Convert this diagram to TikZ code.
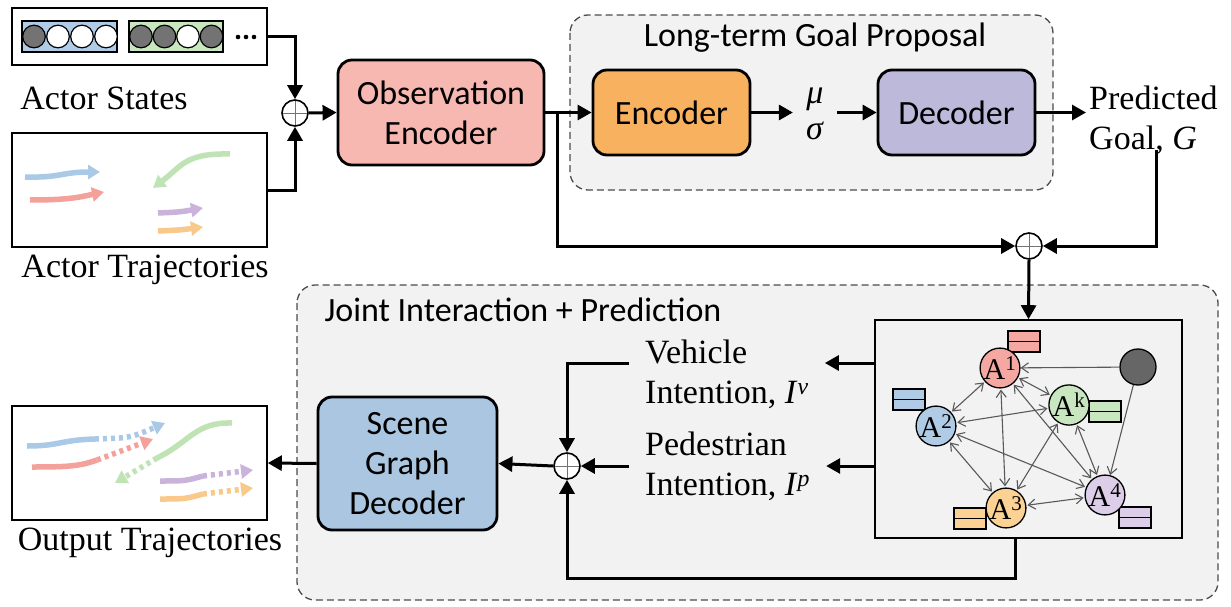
\documentclass[tikz,border=0pt]{standalone}
\usepackage{fontspec}
\setmainfont{Liberation Serif}
\newfontfamily\calfont{Carlito}
\usetikzlibrary{arrows.meta}

\definecolor{obspink}{HTML}{F8B8B2}
\definecolor{encorange}{HTML}{F8B15E}
\definecolor{declav}{HTML}{BDB9DA}
\definecolor{sgdblue}{HTML}{AAC6E0}
\definecolor{groupgray}{HTML}{F2F2F2}
\definecolor{agred}{HTML}{F5A8A2}
\definecolor{agblue}{HTML}{AFCBE6}
\definecolor{aggreen}{HTML}{C8E6C0}
\definecolor{agorange}{HTML}{FBD293}
\definecolor{agpurple}{HTML}{DCCDE8}
\definecolor{trblue}{HTML}{A9C9E6}
\definecolor{trred}{HTML}{F5A19B}
\definecolor{trgreen}{HTML}{BFE3B5}
\definecolor{trpurple}{HTML}{C9B3DB}
\definecolor{trorange}{HTML}{F8C98A}

\tikzset{
  block/.style={draw, line width=2.8pt, rounded corners=14pt, align=center,
    font=\calfont\fontsize{34}{40}\selectfont},
  group/.style={draw=black!70, dash pattern=on 7pt off 4pt, line width=1.3pt,
    rounded corners=18pt, fill=groupgray},
  title/.style={font=\calfont\fontsize{34}{40}\selectfont},
  lbl/.style={font=\fontsize{34}{40}\selectfont, align=left},
  panel/.style={draw, line width=1.6pt, fill=white, inner sep=0pt},
  flow/.style={line width=3pt, -{Triangle[length=14pt,width=15pt]}},
  sumnode/.style={circle, draw, line width=1.6pt, fill=white, minimum size=26pt,
    inner sep=0pt, path picture={
      \draw[black!55, line width=0.8pt]
        (path picture bounding box.north) -- (path picture bounding box.south)
        (path picture bounding box.west) -- (path picture bounding box.east);}},
  agent/.style={circle, draw, line width=1.3pt, minimum size=36pt, inner sep=0pt,
    font=\fontsize{30}{30}\selectfont},
  memo/.style={draw, line width=1.4pt},
  edge/.style={draw=black!65, line width=1.1pt,
    {Straight Barb[length=7pt,width=10pt]}-{Straight Barb[length=7pt,width=10pt]}},
  traj/.style={line width=5.5pt, -{Triangle[length=12pt,width=14pt]}},
  trajdot/.style={traj, dash pattern=on 4pt off 4pt},
}

\begin{document}
\begin{tikzpicture}[x=1pt,y=-1pt]
  \useasboundingbox (0,0) rectangle (1231,607);

  % Dashed groups
  \draw[group] (570,15) rectangle (1053,190);
  \node[title] (goaltitle) at (815,38) {Long-term Goal Proposal};
  \draw[group] (297,285) rectangle (1218,600);
  \node[title, anchor=west] (jointtitle) at (321,310) {Joint Interaction + Prediction};

  % Inputs
  \node[panel, minimum width=255pt, minimum height=57pt] (states) at (139.5,36.5) {};
  \draw[memo, fill=agblue] (22,21) rectangle (117,52);
  \draw[memo, fill=aggreen] (129,21) rectangle (223,52);
  \foreach \x/\c in {34/black!55, 58/white, 82/white, 106/white,
                     141/black!55, 164.5/black!55, 188/white, 211.5/black!55}
    \draw[line width=1.2pt, fill=\c] (\x,36.5) circle (11.3);
  \foreach \x in {238,246,254}
    \fill (\x,37) circle (2.3);
  \node[lbl] (statelbl) at (104,98) {Actor States};

  \node[panel, minimum width=255pt, minimum height=114pt] (trajbox) at (139.5,190) {};
  \draw[traj, trblue] (25,177) .. controls (60,178) and (62,172) .. (100,172);
  \draw[traj, trred] (30,200) .. controls (70,200) and (80,197) .. (104,192);
  \draw[traj, trgreen] (230,154) .. controls (185,153) and (182,166) .. (153,188);
  \draw[traj, trpurple] (158,213) .. controls (180,212) .. (203,208);
  \draw[traj, trorange] (158,231) .. controls (180,230) .. (203,227);
  \node[lbl] (trajlbl) at (145,270) {Actor Trajectories};

  \node[sumnode] (sum1) at (295,113) {};
  \draw[flow] (states.east) -| (sum1.north);
  \draw[flow] (trajbox.east) -| (sum1.south);

  % Encoders
  \node[block, fill=obspink, minimum width=206pt, minimum height=105pt] (obs) at (441,112.5)
    {Observation\\Encoder};
  \node[block, fill=encorange, minimum width=157pt, minimum height=85pt] (enc) at (671.5,112.5)
    {Encoder};
  \node[lbl, align=center, inner sep=1pt] (musig) at (815,114) {\textit{μ}\\[-4pt]\textit{σ}};
  \node[block, fill=declav, minimum width=157pt, minimum height=85pt] (dec) at (956.5,112.5)
    {Decoder};
  \node[lbl, anchor=west, inner sep=3pt] (goal) at (1086,120) {Predicted\\Goal, \textit{G}};

  \draw[flow] (sum1.east) -- (obs.west);
  \draw[flow] (obs.east) -- (enc.west);
  \draw[flow] (enc.east) -- ([xshift=-12pt]enc.east -| musig.west);
  \draw[flow] ([xshift=12pt]dec.west -| musig.east) -- (dec.west);
  \draw[flow] (dec.east) -- (dec.east -| goal.west);

  % Goal fusion
  \node[sumnode] (sum2) at (1029,246) {};
  \coordinate (split) at (557,112.5);
  \draw[flow] (split) |- (sum2.west);
  \draw[flow] ([xshift=3pt, yshift=8pt]goal.south) |- (sum2.east);

  % Interaction graph
  \node[panel, fill=groupgray, minimum width=307pt, minimum height=218pt] (graph) at (1028.5,429) {};
  \draw[flow] (sum2.south) -- (graph.north);

  \foreach \x/\y/\c in {1008/331/agred, 1089/401/aggreen, 893/389/agblue,
                        954/508/agorange, 1119/507/agpurple}
  {
    \draw[memo, fill=\c] (\x,\y) rectangle ++(32,21);
    \draw[memo] (\x,\y) ++(0,10.5) -- ++(32,0);
  }
  \node[agent, fill=agred] (a1) at (1000,368) {A\textsuperscript{1}};
  \node[agent, fill=aggreen] (ak) at (1069,405) {A\textsuperscript{k}};
  \node[agent, fill=agblue] (a2) at (936,426) {A\textsuperscript{2}};
  \node[agent, fill=agorange] (a3) at (1006,508) {A\textsuperscript{3}};
  \node[agent, fill=agpurple] (a4) at (1105,495) {A\textsuperscript{4}};
  \node[agent, fill=black!60] (map) at (1138,367) {};

  \foreach \a/\b in {a1/a2, a1/ak, a1/a3, a1/a4, a2/ak, a2/a3, a2/a4, ak/a3, ak/a4, a3/a4}
    \draw[edge, shorten <=1pt, shorten >=1pt] (\a) -- (\b);
  \draw[draw=black!65, line width=1.1pt, -{Straight Barb[length=7pt,width=10pt]}] (map) -- (a1);
  \draw[draw=black!65, line width=1.1pt, -{Straight Barb[length=7pt,width=10pt]}] (map) -- (a4);

  % Intentions
  \node[lbl, anchor=west, inner xsep=16pt] (veh) at (629,374) {Vehicle\\Intention, \textit{I}\textsuperscript{\textit{v}}};
  \node[lbl, anchor=west, inner xsep=16pt] (ped) at (629,466) {Pedestrian\\Intention, \textit{I}\textsuperscript{\textit{p}}};
  \draw[flow] ([yshift=11pt]veh.east -| graph.west) -- ([yshift=11pt]veh.east);
  \draw[flow] (ped.east -| graph.west) -- (ped.east);

  \node[sumnode] (sum3) at (567,466) {};
  \draw[flow] ([yshift=11pt]veh.west) -| (sum3.north);
  \draw[flow] (ped.west) -- (sum3.east);
  \draw[flow] ([xshift=-13pt]graph.south) -- ++(0,40) -| (sum3.south);

  % Decoder and output
  \node[block, fill=sgdblue, minimum width=179pt, minimum height=133pt] (sgd) at (407.5,463.5)
    {Scene\\Graph\\Decoder};
  \node[panel, minimum width=255pt, minimum height=114pt] (outbox) at (139.5,463) {};
  \draw[flow] (sum3.west) -- (sgd.east);
  \draw[flow] (sgd.west) -- (outbox.east);

  \draw[line width=5.5pt, trblue] (27,446) .. controls (60,446) and (60,440) .. (95,439);
  \draw[trajdot, trblue] (95,439) .. controls (130,438) .. (165,423);
  \draw[line width=5.5pt, trred] (32,467) .. controls (70,467) and (80,466) .. (97,460);
  \draw[trajdot, trred] (97,460) -- (153,439);
  \draw[line width=5.5pt, trgreen] (232,423) .. controls (195,422) and (190,442) .. (157,458);
  \draw[trajdot, trgreen] (157,458) -- (115,483);
  \draw[line width=5.5pt, trpurple] (160,481) .. controls (185,481) .. (203,476);
  \draw[trajdot, trpurple] (203,476) -- (253,470);
  \draw[line width=5.5pt, trorange] (160,499) .. controls (185,499) .. (203,494);
  \draw[trajdot, trorange] (203,494) -- (253,488);
  \node[lbl] (outlbl) at (150,543) {Output Trajectories};
\end{tikzpicture}
\end{document}
